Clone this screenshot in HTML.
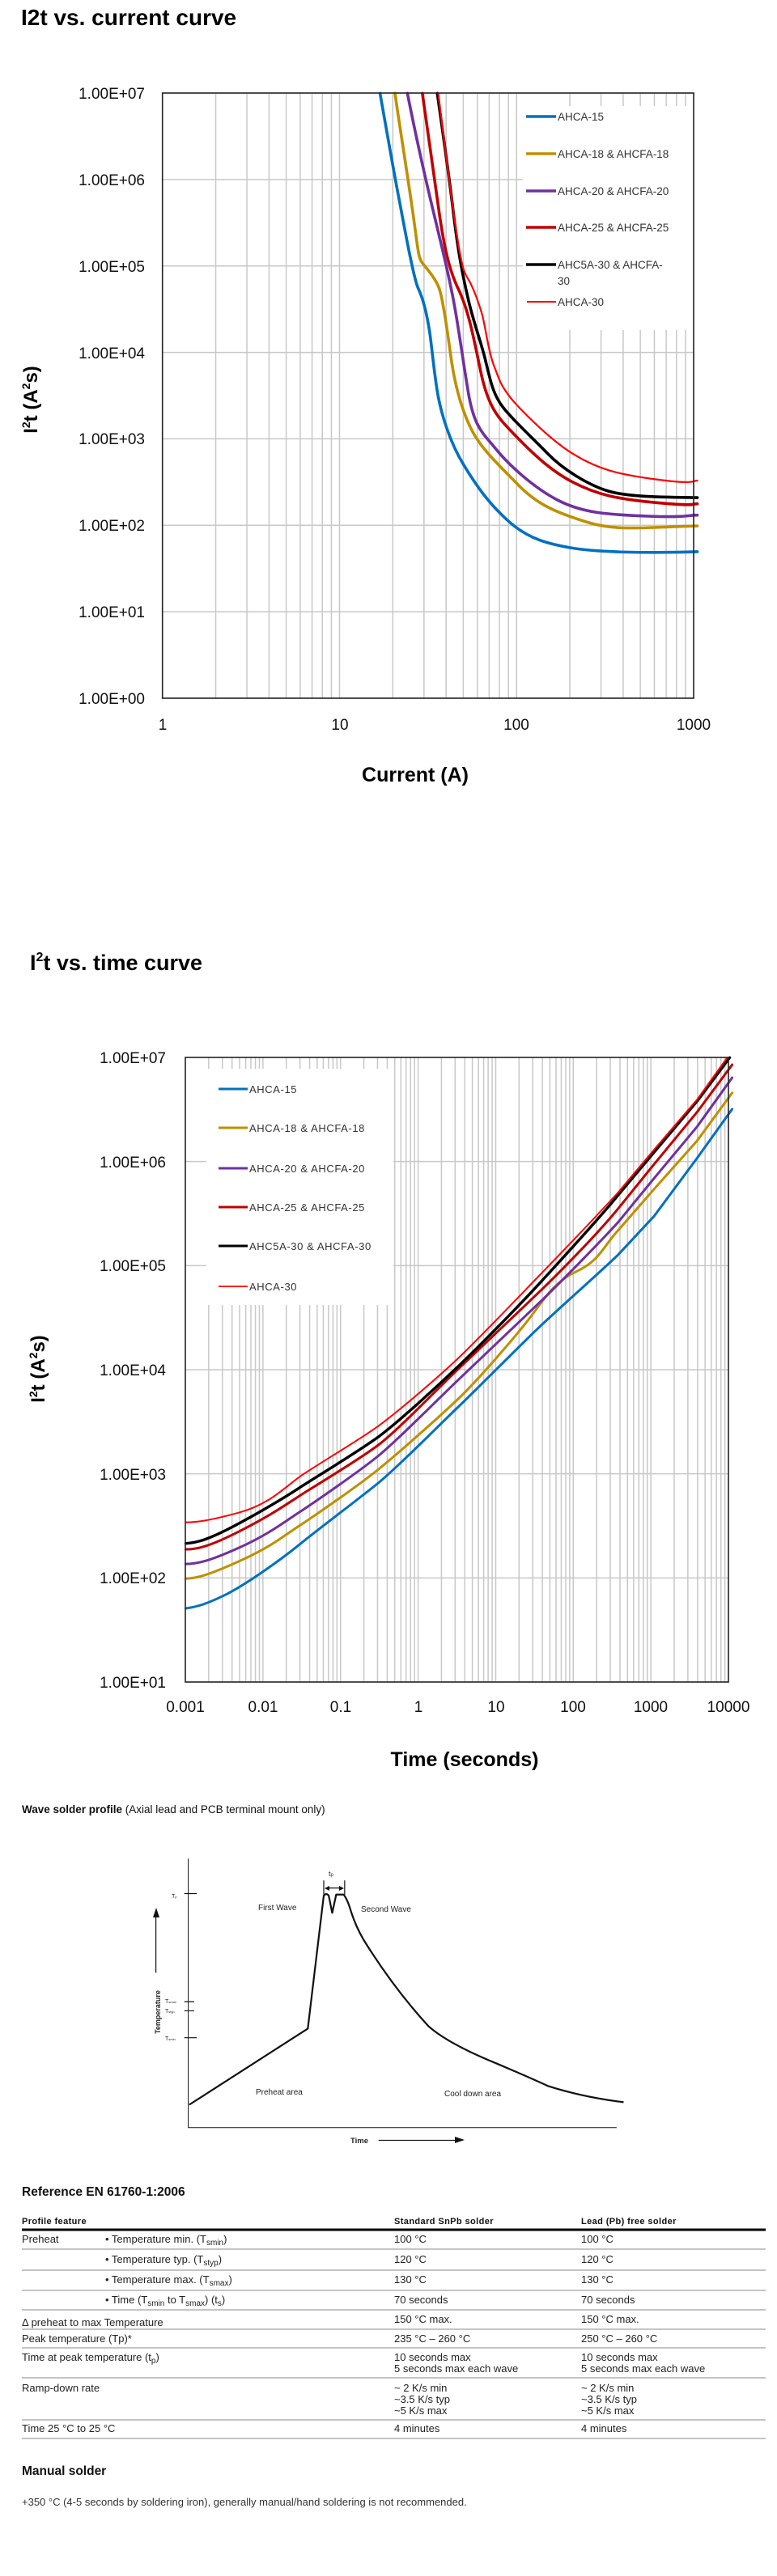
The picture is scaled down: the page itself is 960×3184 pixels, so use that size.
<!DOCTYPE html>
<html><head><meta charset="utf-8"><style>
html,body{margin:0;padding:0;background:#fff}
svg{display:block}
.t{font-family:"Liberation Sans",sans-serif}
.n{font-family:"Liberation Sans Narrow","Liberation Sans",sans-serif;font-size:13px;fill:#222}
</style></head><body>
<svg width="960" height="3184" viewBox="0 0 960 3184" xmlns="http://www.w3.org/2000/svg">
<rect width="960" height="3184" fill="#fff"/>
<!-- Chart 1 -->
<text x="26" y="31" class="t" font-size="28" font-weight="bold">I2t vs. current curve</text>
<g id="g1" stroke="#c8c8c8" stroke-width="1.5"></g>
<rect x="646" y="131" width="212" height="277" fill="#fff"/>
<g fill="none" stroke-linejoin="round" stroke-linecap="round" transform="scale(0.61538,0.63735)">
<path vector-effect="non-scaling-stroke" stroke="#0070c0" stroke-width="3.6" d="M763,181 C772,230 790,330 800,380 S830,540 840,560 S857,610 862,640 S872,730 880,770 S905,860 930,900 S980,975 1020,1010 S1100,1055 1150,1063 S1300,1073 1400,1070"/>
<path vector-effect="non-scaling-stroke" stroke="#bf9000" stroke-width="3.6" d="M793,181 C800,230 820,350 830,420 S840,500 848,510 S875,540 882,560 S898,640 905,690 S925,790 945,830 S1000,900 1040,940 S1120,995 1180,1013 S1300,1022 1400,1020"/>
<path vector-effect="non-scaling-stroke" stroke="#7030a0" stroke-width="3.6" d="M818,181 C830,240 850,330 870,410 S900,530 910,580 S928,690 940,760 S970,840 995,870 S1070,945 1120,970 S1220,998 1300,1001 S1380,999 1400,999"/>
<path vector-effect="non-scaling-stroke" stroke="#c00000" stroke-width="3.6" d="M848,181 C858,250 870,330 880,400 S900,520 920,560 S950,650 965,720 S1000,810 1030,840 S1100,910 1150,935 S1240,968 1320,975 S1390,977 1400,977"/>
<path vector-effect="non-scaling-stroke" stroke="#000" stroke-width="3.6" d="M878,181 C888,250 900,330 910,410 S928,530 940,580 S965,660 975,700 S990,765 1010,790 S1070,850 1100,880 S1180,940 1220,952 S1330,964 1400,965"/>
<path vector-effect="non-scaling-stroke" stroke="#ff0000" stroke-width="2.2" d="M880,181 C890,260 905,380 918,460 S935,530 945,550 S962,590 968,610 S980,680 992,710 S1005,745 1020,765 S1100,850 1150,880 S1240,920 1320,930 S1390,932 1400,932"/>
</g>
<rect x="200.7" y="115" width="656.3" height="748" fill="none" stroke="#222" stroke-width="1.6"/>
<g class="t" font-size="13.5" fill="#333">
<line x1="650" y1="144" x2="687" y2="144" stroke="#0070c0" stroke-width="3.5"/><text x="689" y="149">AHCA-15</text>
<line x1="650" y1="190" x2="687" y2="190" stroke="#bf9000" stroke-width="3.5"/><text x="689" y="195">AHCA-18 &amp; AHCFA-18</text>
<line x1="650" y1="236" x2="687" y2="236" stroke="#7030a0" stroke-width="3.5"/><text x="689" y="241">AHCA-20 &amp; AHCFA-20</text>
<line x1="650" y1="281" x2="687" y2="281" stroke="#c00000" stroke-width="3.5"/><text x="689" y="286">AHCA-25 &amp; AHCFA-25</text>
<line x1="650" y1="327" x2="687" y2="327" stroke="#000" stroke-width="3.5"/><text x="689" y="332">AHC5A-30 &amp; AHCFA-</text><text x="689" y="352">30</text>
<line x1="651" y1="373" x2="687" y2="373" stroke="#ff0000" stroke-width="2"/><text x="689" y="378">AHCA-30</text>
</g>
<g class="t" font-size="19" fill="#111" text-anchor="end">
<text x="179" y="122">1.00E+07</text><text x="179" y="229">1.00E+06</text><text x="179" y="336">1.00E+05</text><text x="179" y="443">1.00E+04</text><text x="179" y="549">1.00E+03</text><text x="179" y="656">1.00E+02</text><text x="179" y="763">1.00E+01</text><text x="179" y="870">1.00E+00</text>
</g>
<g class="t" font-size="19" fill="#111" text-anchor="middle">
<text x="201" y="902">1</text><text x="420" y="902">10</text><text x="638" y="902">100</text><text x="857" y="902">1000</text>
</g>
<text x="513" y="966" class="t" font-size="25" font-weight="bold" text-anchor="middle">Current (A)</text>
<text transform="translate(46,494) rotate(-90)" class="t" font-size="24" font-weight="bold" text-anchor="middle">I<tspan font-size="14" dy="-9">2</tspan><tspan dy="9">t (A</tspan><tspan font-size="14" dy="-9">2</tspan><tspan dy="9">s)</tspan></text>

<!-- Chart 2 -->
<text x="37" y="1199" class="t" font-size="27" font-weight="bold">I<tspan font-size="16" dy="-11">2</tspan><tspan dy="11">t vs. time curve</tspan></text>
<g id="g2" stroke="#c8c8c8" stroke-width="1.5"></g>
<rect x="255" y="1321" width="231" height="292" fill="#fff"/>
<g fill="none" stroke-linejoin="round" stroke-linecap="round" transform="translate(0,1150) scale(0.61538,0.66934)">
<path vector-effect="non-scaling-stroke" stroke="#0070c0" stroke-width="3" d="M373,1252 C390,1250 410,1246 450,1228 S560,1165 600,1135 S720,1050 760,1020 S880,915 920,880 S1040,770 1080,735 S1200,635 1240,600 L1313,528 L1400,420 L1470,330"/>
<path vector-effect="non-scaling-stroke" stroke="#bf9000" stroke-width="3" d="M373,1197 C395,1196 415,1192 480,1165 S570,1118 600,1100 S720,1025 760,995 S880,900 920,865 S1030,755 1060,720 S1110,650 1157,630 S1210,585 1240,555 L1313,478 L1400,388 L1470,300"/>
<path vector-effect="non-scaling-stroke" stroke="#7030a0" stroke-width="3" d="M373,1170 C395,1170 420,1165 480,1140 S570,1093 600,1075 S720,1000 760,970 S880,865 920,830 S1040,725 1080,690 S1200,580 1240,540 L1313,458 L1400,362 L1470,272"/>
<path vector-effect="non-scaling-stroke" stroke="#c00000" stroke-width="3" d="M373,1143 C395,1143 420,1138 480,1110 S570,1063 600,1045 S720,978 760,950 S880,845 920,810 S1040,705 1080,670 S1200,560 1240,515 L1313,432 L1400,335 L1470,248"/>
<path vector-effect="non-scaling-stroke" stroke="#000" stroke-width="3.4" d="M373,1132 C395,1131 420,1125 480,1095 S570,1048 600,1030 S720,962 760,935 S880,840 920,805 S1040,695 1080,655 S1200,535 1240,490 L1313,410 L1400,315 L1465,235"/>
<path vector-effect="non-scaling-stroke" stroke="#ff0000" stroke-width="2" d="M373,1093 C395,1093 420,1090 480,1075 S570,1030 600,1010 S720,942 760,915 S880,825 920,790 S1040,678 1080,640 S1200,525 1240,485 L1313,405 L1400,312 L1460,235"/>
</g>
<rect x="229" y="1307" width="671" height="772" fill="none" stroke="#222" stroke-width="1.6"/>
<g class="t" font-size="13" fill="#333" letter-spacing="0.6">
<line x1="270" y1="1346" x2="306" y2="1346" stroke="#0070c0" stroke-width="3"/><text x="308" y="1351">AHCA-15</text>
<line x1="270" y1="1394" x2="306" y2="1394" stroke="#bf9000" stroke-width="3"/><text x="308" y="1399">AHCA-18 &amp; AHCFA-18</text>
<line x1="270" y1="1444" x2="306" y2="1444" stroke="#7030a0" stroke-width="3"/><text x="308" y="1449">AHCA-20 &amp; AHCFA-20</text>
<line x1="270" y1="1492" x2="306" y2="1492" stroke="#c00000" stroke-width="3"/><text x="308" y="1497">AHCA-25 &amp; AHCFA-25</text>
<line x1="270" y1="1540" x2="306" y2="1540" stroke="#000" stroke-width="3"/><text x="308" y="1545">AHC5A-30 &amp; AHCFA-30</text>
<line x1="270" y1="1590" x2="306" y2="1590" stroke="#ff0000" stroke-width="1.8"/><text x="308" y="1595">AHCA-30</text>
</g>
<g class="t" font-size="19" fill="#111" text-anchor="end">
<text x="205" y="1314">1.00E+07</text><text x="205" y="1443">1.00E+06</text><text x="205" y="1571">1.00E+05</text><text x="205" y="1700">1.00E+04</text><text x="205" y="1829">1.00E+03</text><text x="205" y="1957">1.00E+02</text><text x="205" y="2086">1.00E+01</text>
</g>
<g class="t" font-size="19" fill="#111" text-anchor="middle">
<text x="229" y="2116">0.001</text><text x="325" y="2116">0.01</text><text x="421" y="2116">0.1</text><text x="517" y="2116">1</text><text x="613" y="2116">10</text><text x="708" y="2116">100</text><text x="804" y="2116">1000</text><text x="900" y="2116">10000</text>
</g>
<text x="574" y="2183" class="t" font-size="25" font-weight="bold" text-anchor="middle">Time (seconds)</text>
<text transform="translate(55,1692) rotate(-90)" class="t" font-size="24" font-weight="bold" text-anchor="middle">I<tspan font-size="14" dy="-9">2</tspan><tspan dy="9">t (A</tspan><tspan font-size="14" dy="-9">2</tspan><tspan dy="9">s)</tspan></text>

<!-- Wave solder -->
<text x="27" y="2241" class="t" font-size="13.5" fill="#111"><tspan font-weight="bold">Wave solder profile</tspan> (Axial lead and PCB terminal mount only)</text>
<g fill="none" stroke="#111" transform="translate(0,2200) scale(0.61538,0.62735)">
<path vector-effect="non-scaling-stroke" stroke-width="1" d="M378,155 L378,685 L1238,685"/>
<path vector-effect="non-scaling-stroke" stroke-width="2.2" stroke-linejoin="round" d="M380,640 L618,490 L650,228 Q655,222 660,228 L667,262 L675,226 L690,226 Q698,236 705,260 Q715,290 730,315 Q790,410 860,485 Q900,520 1000,560 Q1060,585 1100,603 Q1170,625 1252,635"/>
<path vector-effect="non-scaling-stroke" stroke-width="1.2" d="M370,224 L395,224 M370,437 L390,437 M370,455 L390,455 M370,508 L395,508 M313,380 L313,268 M760,710 L915,710 M650,198 L650,226 M692,198 L692,226 M654,213 L688,213"/>
</g>
<polygon points="193,2358 189,2370 197,2370" fill="#111"/>
<polygon points="574,2645 562,2641 562,2649" fill="#111"/>
<polygon points="401,2334 407,2331 407,2337" fill="#111"/>
<polygon points="425,2334 419,2331 419,2337" fill="#111"/>
<g class="t" fill="#222" font-size="10">
<text x="319" y="2361">First Wave</text><text x="446" y="2363">Second Wave</text>
<text x="316" y="2589">Preheat area</text><text x="549" y="2591">Cool down area</text>
<text x="433" y="2649" font-weight="bold" font-size="9.5">Time</text>
<text x="212" y="2346" font-size="7">T<tspan font-size="4">p</tspan></text>
<text x="204" y="2476" font-size="7">T<tspan font-size="4">smax</tspan></text>
<text x="204" y="2488" font-size="7">T<tspan font-size="4">styp</tspan></text>
<text x="204" y="2522" font-size="7">T<tspan font-size="4">smin</tspan></text>
<text x="406" y="2319" font-size="9">t<tspan font-size="6">p</tspan></text>
<text transform="translate(198,2487) rotate(-90)" text-anchor="middle" font-size="9" font-weight="bold">Temperature</text>
</g>

<!-- Table -->
<text x="27" y="2714" class="t" font-size="15.5" font-weight="bold" fill="#111">Reference EN 61760-1:2006</text>
<g class="t" font-size="11" font-weight="bold" fill="#111" letter-spacing="0.4">
<text x="27" y="2749">Profile feature</text><text x="487" y="2749">Standard SnPb solder</text><text x="718" y="2749">Lead (Pb) free solder</text>
</g>
<line x1="27" y1="2756" x2="946" y2="2756" stroke="#000" stroke-width="3"/>
<g stroke="#888" stroke-width="1">
<line x1="27" y1="2780" x2="946" y2="2780"/><line x1="27" y1="2806" x2="946" y2="2806"/><line x1="27" y1="2831" x2="946" y2="2831"/><line x1="27" y1="2855" x2="946" y2="2855"/><line x1="27" y1="2879" x2="946" y2="2879"/><line x1="27" y1="2902" x2="946" y2="2902"/><line x1="27" y1="2939" x2="946" y2="2939"/><line x1="27" y1="2991" x2="946" y2="2991"/><line x1="27" y1="3014" x2="946" y2="3014"/>
</g>
<g class="n">
<text x="27" y="2772">Preheat</text>
<text x="130" y="2772">• Temperature min. (T<tspan font-size="10" dy="3">smin</tspan><tspan dy="-3">)</tspan></text>
<text x="130" y="2797">• Temperature typ. (T<tspan font-size="10" dy="3">styp</tspan><tspan dy="-3">)</tspan></text>
<text x="130" y="2822">• Temperature max. (T<tspan font-size="10" dy="3">smax</tspan><tspan dy="-3">)</tspan></text>
<text x="130" y="2847">• Time (T<tspan font-size="10" dy="3">smin</tspan><tspan dy="-3"> to T</tspan><tspan font-size="10" dy="3">smax</tspan><tspan dy="-3">) (t</tspan><tspan font-size="10" dy="3">s</tspan><tspan dy="-3">)</tspan></text>
<text x="27" y="2875">Δ preheat to max Temperature</text>
<text x="27" y="2895">Peak temperature (Tp)*</text>
<text x="27" y="2918">Time at peak temperature (t<tspan font-size="10" dy="3">p</tspan><tspan dy="-3">)</tspan></text>
<text x="27" y="2956">Ramp-down rate</text>
<text x="27" y="3006">Time 25 °C to 25 °C</text>
<text x="487" y="2772">100 °C</text><text x="718" y="2772">100 °C</text>
<text x="487" y="2797">120 °C</text><text x="718" y="2797">120 °C</text>
<text x="487" y="2822">130 °C</text><text x="718" y="2822">130 °C</text>
<text x="487" y="2847">70 seconds</text><text x="718" y="2847">70 seconds</text>
<text x="487" y="2871">150 °C max.</text><text x="718" y="2871">150 °C max.</text>
<text x="487" y="2895">235 °C – 260 °C</text><text x="718" y="2895">250 °C – 260 °C</text>
<text x="487" y="2918">10 seconds max</text><text x="718" y="2918">10 seconds max</text>
<text x="487" y="2932">5 seconds max each wave</text><text x="718" y="2932">5 seconds max each wave</text>
<text x="487" y="2956">~ 2 K/s min</text><text x="718" y="2956">~ 2 K/s min</text>
<text x="487" y="2970">~3.5 K/s typ</text><text x="718" y="2970">~3.5 K/s typ</text>
<text x="487" y="2984">~5 K/s max</text><text x="718" y="2984">~5 K/s max</text>
<text x="487" y="3006">4 minutes</text><text x="718" y="3006">4 minutes</text>
</g>
<text x="27" y="3059" class="t" font-size="15.5" font-weight="bold" fill="#111">Manual solder</text>
<text x="27" y="3097" class="t" font-size="13" fill="#333">+350 °C (4-5 seconds by soldering iron), generally manual/hand soldering is not recommended.</text>
</svg>
<script>
(function(){
var NS="http://www.w3.org/2000/svg";
function ln(g,x1,y1,x2,y2){var l=document.createElementNS(NS,"line");l.setAttribute("x1",x1);l.setAttribute("y1",y1);l.setAttribute("x2",x2);l.setAttribute("y2",y2);g.appendChild(l);}
var g1=document.getElementById("g1");
var L=200.7,R=857,T=115,B=863,dx=(R-L)/3,dy=(B-T)/7;
for(var d=0;d<3;d++)for(var k=1;k<=9;k++){if(d==0&&k==1)continue;var x=L+dx*(d+Math.log10(k));ln(g1,x,T,x,B);}
for(var i=1;i<7;i++){ln(g1,L,T+dy*i,R,T+dy*i);}
var g2=document.getElementById("g2");
L=229;R=900;T=1307;B=2079;dx=(R-L)/7;dy=(B-T)/6;
for(var d=0;d<7;d++)for(var k=1;k<=9;k++){if(d==0&&k==1)continue;var x=L+dx*(d+Math.log10(k));ln(g2,x,T,x,B);}
for(var i=1;i<6;i++){ln(g2,L,T+dy*i,R,T+dy*i);}
})();
</script>
</body></html>
